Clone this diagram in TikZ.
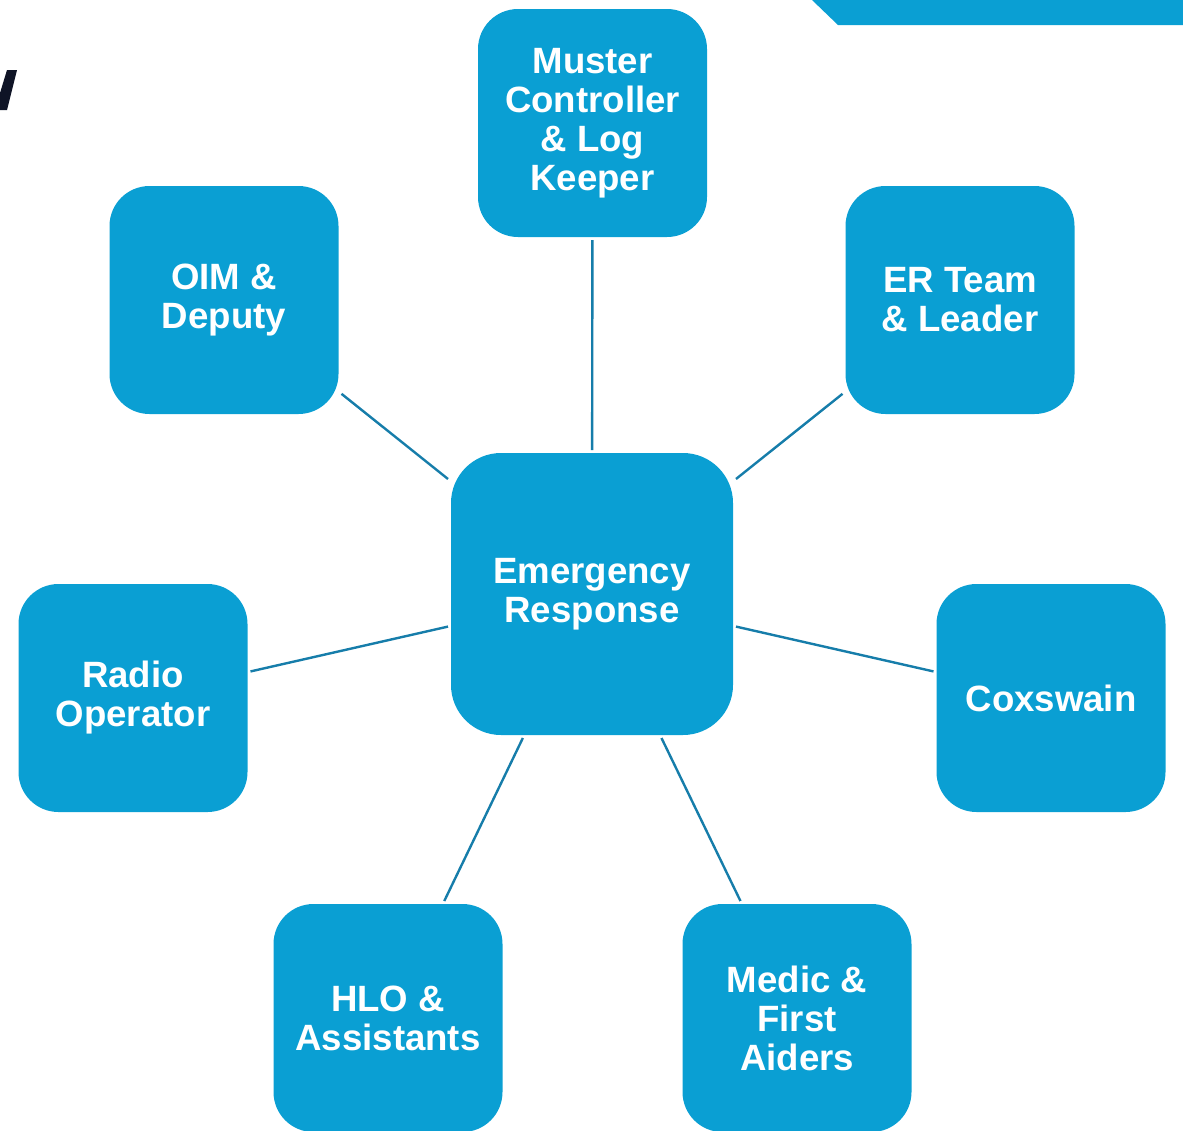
\documentclass[tikz,border=0pt]{standalone}
\usepackage{fontspec}
\setmainfont{Liberation Sans}
\usepackage{tikz}
\usetikzlibrary{shapes,positioning,calc}
\usepackage{xcolor}
\definecolor{boxblue}{HTML}{0A9FD3}
\definecolor{linkblue}{HTML}{167DAA}
\definecolor{titleink}{HTML}{0F1426}

\tikzset{
    role/.style={rectangle, rounded corners=20pt, fill=boxblue, text=white,
        minimum width=114.5pt, minimum height=114pt, inner sep=0pt, outer sep=1.5pt,
        align=center, font=\fontsize{18.3}{19.5}\selectfont\bfseries},
    hub/.style={role, minimum width=141pt, minimum height=141pt, rounded corners=25pt},
    link/.style={draw=linkblue, line width=1.2pt}
}

\begin{document}
\begin{tikzpicture}[x=0.5pt, y=-0.5pt]
    \useasboundingbox (0,0) rectangle (1183,1130);

    % Page decorations
    \fill[boxblue] (812,0) -- (838,25) -- (1183,25) -- (1183,0) -- cycle;
    \fill[titleink] (7,70) -- (17,70) -- (7,110) -- (0,110) -- (0,93) -- cycle;

    % Centre
    \node[hub] (n-er) at (592,594) {Emergency\\Response};

    % Roles around the centre
    \node[role] (n-muster) at (592.5,123) {Muster\\Controller\\\& Log\\Keeper};
    \node[role] (n-oim)    at (224,300)   {OIM \&\\Deputy};
    \node[role] (n-team)   at (960,300)   {ER Team\\\& Leader};
    \node[role] (n-radio)  at (133,698)   {Radio\\Operator};
    \node[role] (n-cox)    at (1051,698)  {Coxswain};
    \node[role] (n-hlo)    at (388,1018)  {HLO \&\\Assistants};
    \node[role] (n-medic)  at (797,1018)  {Medic \&\\First\\Aiders};

    % Links
    \foreach \r in {n-muster, n-oim, n-team, n-radio, n-cox, n-hlo, n-medic} {
        \draw[link] (n-er) -- (\r);
    }
\end{tikzpicture}
\end{document}
